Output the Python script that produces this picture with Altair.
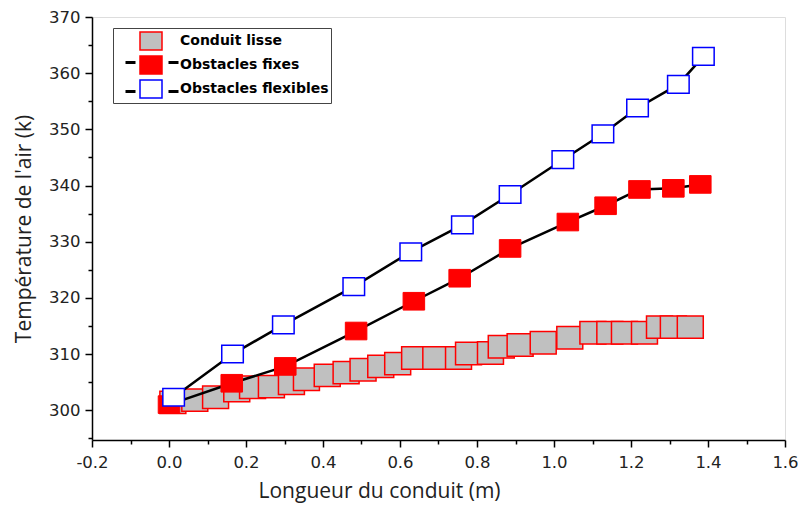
import altair as alt
import pandas as pd

# ---- data ----
series_names = ["Conduit lisse", "Obstacles fixes", "Obstacles flexibles"]

lisse_x = [0.010, 0.067, 0.121, 0.176, 0.217, 0.266, 0.318, 0.357, 0.411, 0.460,
           0.504, 0.550, 0.594, 0.638, 0.693, 0.752, 0.778, 0.835, 0.863, 0.912,
           0.972, 1.041, 1.101, 1.145, 1.183, 1.235, 1.274, 1.310, 1.354]
lisse_y = [301.4, 301.8, 302.3, 303.5, 304.1, 304.2, 304.8, 305.5, 306.2, 306.7,
           307.2, 307.8, 308.3, 309.3, 309.3, 309.3, 310.1, 310.2, 311.3, 311.6,
           312.0, 312.9, 313.8, 313.8, 313.8, 313.8, 314.8, 314.8, 314.8]

fixes_x = [0.000, 0.163, 0.302, 0.486, 0.636, 0.755, 0.886, 1.036, 1.134, 1.222, 1.310, 1.380]
fixes_y = [301.0, 304.8, 307.8, 314.1, 319.4, 323.5, 328.8, 333.5, 336.4, 339.3, 339.5, 340.2]

flex_x = [0.012, 0.165, 0.297, 0.480, 0.628, 0.762, 0.886, 1.023, 1.127, 1.217, 1.323, 1.388]
flex_y = [302.3, 310.0, 315.2, 322.0, 328.2, 333.0, 338.4, 344.6, 349.2, 353.8, 358.0, 363.0]

x_ticks = [-0.2, -0.1, 0.0, 0.1, 0.2, 0.3, 0.4, 0.5, 0.6, 0.7, 0.8, 0.9,
           1.0, 1.1, 1.2, 1.3, 1.4, 1.5, 1.6]
y_ticks = [295, 300, 305, 310, 315, 320, 325, 330, 335, 340, 345, 350, 355, 360, 365, 370]

df_lisse = pd.DataFrame({"x": lisse_x, "y": lisse_y})
df_fixes = pd.DataFrame({"x": fixes_x, "y": fixes_y})
df_flex = pd.DataFrame({"x": flex_x, "y": flex_y})
df_leg = pd.DataFrame({"series": series_names, "dash": ["a", "b", "c"],
                       "x": [0.0, 0.0, 0.0], "y": [300.0, 300.0, 300.0]})

# ---- styles ----
RECT_BIG = "M-1.1,-0.95H1.1V0.95H-1.1Z"
RECT = "M-1.1,-0.9H1.1V0.9H-1.1Z"
PHANTOM = "M0,-0.83L0,-0.83M0,0.83L0,0.83"
DASHES = "M-2.6,0H-1.6M1.7,0H2.7" + PHANTOM
TICK_FONT = "DejaVu Sans"
TITLE_FONT = "Open Sans"
LEG_FONT = "DejaVu Sans"

x_major = "abs(datum.value*5 - round(datum.value*5)) < 0.001"
y_major = "datum.value % 10 === 0"

xs = alt.Scale(domain=[-0.2, 1.6], nice=False, zero=False)
ys = alt.Scale(domain=[294.7, 370], nice=False, zero=False)

x_axis = alt.Axis(
    values=x_ticks,
    labelExpr=f"{x_major} ? replace(format(datum.value, '.1f'), '\u2212', '-') : ''",
    tickSize={"condition": {"test": x_major, "value": 7}, "value": 4},
    grid=False, title="Longueur du conduit (m)", labelFlush=False, labelOverlap=False,
    labelFont=TICK_FONT, labelFontSize=16.5, labelColor="#222", labelPadding=7,
    titleFont=TITLE_FONT, titleFontSize=21, titleFontWeight="normal", titleColor="#222",
    titleX=287, titleY=57, titleBaseline="alphabetic",
    domainColor="black", domainWidth=1.5, tickColor="black", tickWidth=1.5,
)
y_axis = alt.Axis(
    values=y_ticks,
    labelExpr=f"{y_major} ? datum.label : ''",
    tickSize={"condition": {"test": y_major, "value": 7}, "value": 4},
    grid=False, title="Température de l'air (k)", labelFlush=False, labelOverlap=False,
    labelFont=TICK_FONT, labelFontSize=16.5, labelColor="#222", labelPadding=5,
    titleFont=TITLE_FONT, titleFontSize=21, titleFontWeight="normal", titleColor="#222",
    titleX=-68, titleBaseline="middle",
    domainColor="black", domainWidth=1.5, tickColor="black", tickWidth=1.5,
)

X = alt.X("x:Q", scale=xs, axis=x_axis)
Y = alt.Y("y:Q", scale=ys, axis=y_axis)

grey = alt.Chart(df_lisse).mark_point(
    shape=RECT_BIG, size=557, filled=True, fill="#c0c0c0", stroke="#ff0000",
    strokeWidth=1.5, opacity=1
).encode(x=X, y=Y)

line_fixes = alt.Chart(df_fixes).mark_line(color="black", strokeWidth=2.5).encode(x=X, y=Y)
line_flex = alt.Chart(df_flex).mark_line(color="black", strokeWidth=2.5).encode(x=X, y=Y)

red = alt.Chart(df_fixes).mark_point(
    shape=RECT, size=384, filled=True, fill="#ff0000", stroke="#ff0000",
    strokeWidth=1, opacity=1
).encode(x=X, y=Y)

blue = alt.Chart(df_flex).mark_point(
    shape=RECT, size=384, filled=True, fill="white", stroke="#0000ff",
    strokeWidth=1.5, opacity=1
).encode(x=X, y=Y)

common_leg = dict(
    title=None, orient="none", legendX=21,
    symbolSize=400, symbolOffset=25, labelOffset=18, padding=2, rowPadding=0,
    labelFont=LEG_FONT, labelFontSize=14, labelFontWeight="bold", labelLimit=400,
    symbolOpacity=1,
)

leg_main = alt.Legend(
    symbolType=RECT, symbolStrokeWidth=1.5, legendY=11,
    labelColor="black", strokeColor="#444", **common_leg
)
legend_layer = alt.Chart(df_leg).transform_filter("false").mark_point(
    filled=True, size=400, opacity=1
).encode(
    x=X, y=Y,
    fill=alt.Fill("series:N", scale=alt.Scale(domain=series_names,
                                              range=["#c0c0c0", "#ff0000", "#ffffff"]),
                  legend=leg_main),
    stroke=alt.Stroke("series:N", scale=alt.Scale(domain=series_names,
                                                  range=["#ff0000", "#ff0000", "#0000ff"]),
                      legend=leg_main),
)

leg_dash = alt.Legend(
    symbolStrokeColor="black", symbolStrokeWidth=3, symbolFillColor="transparent",
    legendY=3, labelExpr="' '", labelColor="white", **common_leg
)
dash_layer = alt.Chart(df_leg).transform_filter("false").mark_point(
    filled=False, color="black", strokeWidth=3, size=400, opacity=1
).encode(
    x=X, y=Y,
    shape=alt.Shape("dash:N", scale=alt.Scale(domain=["a", "b", "c"],
                                              range=[PHANTOM, DASHES, DASHES]),
                    legend=leg_dash),
)

chart = alt.layer(grey, line_fixes, line_flex, red, blue, legend_layer, dash_layer).properties(
    width=693, height=423,
    autosize=alt.AutoSizeParams(type="none"),
    padding={"left": 84, "top": 9, "right": 13, "bottom": 63},
).configure_view(stroke="#333", strokeWidth=1.5).configure(background="white")

chart.save("out.html", embed_options={"renderer": "svg", "actions": False})
